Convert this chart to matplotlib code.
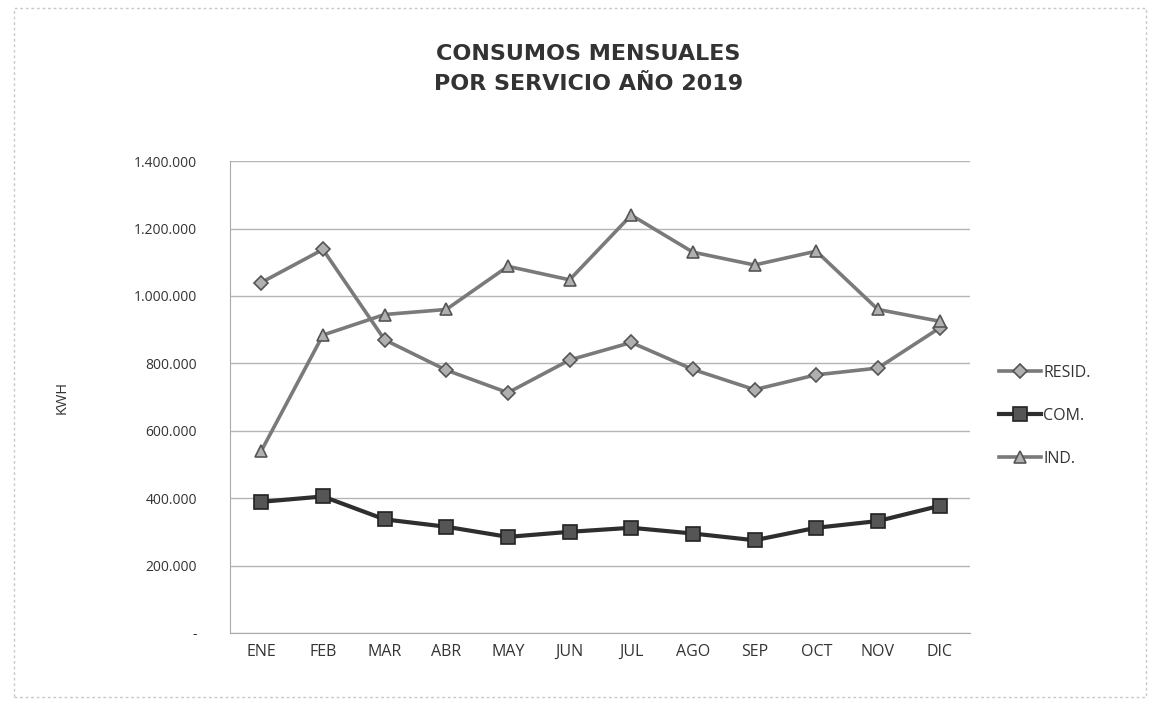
import matplotlib
matplotlib.use("Agg")
import matplotlib.pyplot as plt
from matplotlib.ticker import FuncFormatter, MultipleLocator

months = ["ENE", "FEB", "MAR", "ABR", "MAY", "JUN", "JUL", "AGO", "SEP", "OCT", "NOV", "DIC"]
resid = [1040000, 1138000, 870000, 780000, 713000, 810000, 862000, 782000, 722000, 766000, 786000, 905000]
com = [389000, 405000, 337000, 315000, 285000, 300000, 312000, 295000, 275000, 312000, 332000, 377000]
ind = [540000, 884000, 945000, 960000, 1088000, 1048000, 1240000, 1130000, 1092000, 1133000, 960000, 925000]

plt.rcParams['font.family'] = ['Open Sans', 'DejaVu Sans']

fig = plt.figure(figsize=(11.58, 7.04), dpi=100)
ax = fig.add_axes([0.199, 0.101, 0.639, 0.670])

x = list(range(len(months)))
ax.plot(x, resid, color="#7a7a7a", lw=2.6, marker="D", ms=7.5, mfc="#b0b0b0", mec="#555555", mew=1.2, label="RESID.")
ax.plot(x, com, color="#2e2e2e", lw=3.0, marker="s", ms=10, mfc="#555555", mec="#222222", mew=1.2, label="COM.")
ax.plot(x, ind, color="#7a7a7a", lw=2.6, marker="^", ms=9, mfc="#b0b0b0", mec="#555555", mew=1.2, label="IND.")

ax.set_xlim(-0.5, 11.5)
ax.set_ylim(0, 1400000)
ax.yaxis.set_major_locator(MultipleLocator(200000))

def fmt(v, pos):
    if v == 0:
        return "-"
    return f"{int(v):,}".replace(",", ".")

ax.yaxis.set_major_formatter(FuncFormatter(fmt))
ax.set_xticks(x)
ax.set_xticklabels(months, fontsize=11.5, color="#333333")
ax.tick_params(axis="y", labelsize=10, colors="#333333", length=0, pad=24)
ax.tick_params(axis="x", length=0, pad=8)
ax.grid(axis="y", color="#b5b5b5", lw=1.0)
ax.set_axisbelow(True)
for s in ["top", "right"]:
    ax.spines[s].set_visible(False)
ax.spines["left"].set_color("#aaaaaa")
ax.spines["left"].set_linestyle((0, (2, 1)))
ax.spines["bottom"].set_color("#aaaaaa")

ax.set_ylabel("KWH", fontsize=10.5, color="#333333", labelpad=46)

fig.text(0.508, 0.902, "CONSUMOS MENSUALES\nPOR SERVICIO AÑO 2019", ha="center", va="center",
         fontsize=16, fontweight="bold", color="#333333", linespacing=1.6,
         family=["DejaVu Sans"])

leg = ax.legend(loc="center left", bbox_to_anchor=(1.0, 0.46), frameon=False, fontsize=11.5,
                handlelength=2.6, labelspacing=1.7, handletextpad=0.15, borderaxespad=1.4)
for t in leg.get_texts():
    t.set_color("#333333")

border = plt.Rectangle((0.012, 0.01), 0.978, 0.978, transform=fig.transFigure, fill=False,
                       ec="#c8c8c8", lw=1.0, ls=(0, (2, 2)))
fig.add_artist(border)

fig.savefig("out.png", dpi=100, facecolor="white")
